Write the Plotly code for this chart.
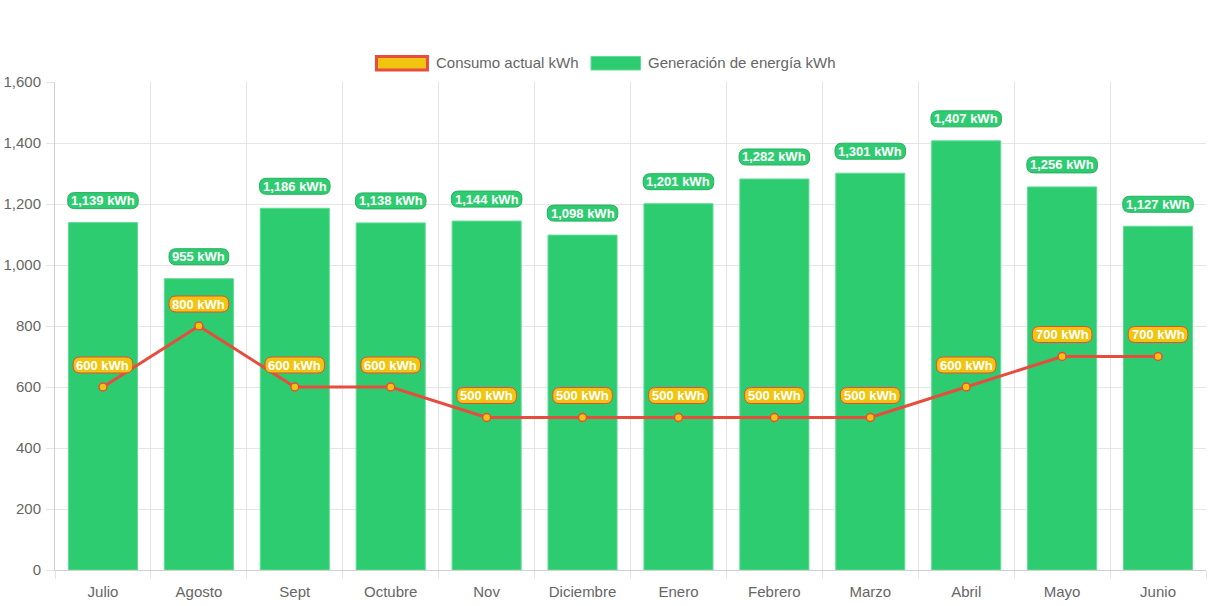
import plotly.graph_objects as go

months = ["Julio", "Agosto", "Sept", "Octubre", "Nov", "Diciembre", "Enero",
          "Febrero", "Marzo", "Abril", "Mayo", "Junio"]
generacion = [1139, 955, 1186, 1138, 1144, 1098, 1201, 1282, 1301, 1407, 1256, 1127]
consumo = [600, 800, 600, 600, 500, 500, 500, 500, 500, 600, 700, 700]

GREEN = "#2ecc71"
GREEN_DARK = "#27ae60"
YELLOW = "#f1c40f"
RED = "#e74c3c"
FONT = "Liberation Sans, Arial, sans-serif"
LABEL_SIZE = 13
LABEL_SHIFT = 22

# approximate Arial Bold advance widths (per 1000 em)
BOLD_W = {c: 556 for c in "0123456789"}
BOLD_W.update({",": 278, " ": 278, "k": 556, "W": 944, "h": 611})


def text_px(s, size=LABEL_SIZE):
    return sum(BOLD_W.get(c, 556) for c in s) * size / 1000.0


def pill(w, h, r, cy):
    x0, x1 = -w / 2, w / 2
    y0, y1 = cy - h / 2, cy + h / 2
    return (f"M {x0 + r},{y0} L {x1 - r},{y0} Q {x1},{y0} {x1},{y0 + r} "
            f"L {x1},{y1 - r} Q {x1},{y1} {x1 - r},{y1} L {x0 + r},{y1} "
            f"Q {x0},{y1} {x0},{y1 - r} L {x0},{y0 + r} Q {x0},{y0} {x0 + r},{y0} Z")


fig = go.Figure()
fig.add_trace(go.Bar(
    x=months, y=generacion, name="Generación de energía kWh",
    marker=dict(color=GREEN, line=dict(color="#5fdc94", width=1)),
    showlegend=False,
))
fig.add_trace(go.Scatter(
    x=months, y=consumo, mode="lines+markers", name="Consumo actual kWh",
    line=dict(color=RED, width=3),
    marker=dict(color=YELLOW, size=8, line=dict(color=RED, width=1.5)),
    showlegend=False,
))

annotations = []
shapes = []
for series, fill, border in ((generacion, GREEN, GREEN_DARK), (consumo, YELLOW, RED)):
    for m, v in zip(months, series):
        txt = f"{v:,} kWh"
        w = text_px(txt) + 7
        shapes.append(dict(
            type="path", xref="x", yref="y", xsizemode="pixel", ysizemode="pixel",
            xanchor=m, yanchor=v, path=pill(w, 16, 7, LABEL_SHIFT),
            fillcolor=fill, line=dict(color=border, width=1), layer="above",
        ))
        annotations.append(dict(
            x=m, y=v, text=f"<b>{txt}</b>", showarrow=False, yshift=LABEL_SHIFT,
            font=dict(color="white", size=LABEL_SIZE, family=FONT),
        ))

# custom legend (wide boxes as in the original)
legend_items = [
    ("Consumo actual kWh", YELLOW, RED, 3, 0.2793, 0.3236, 0.3293),
    ("Generación de energía kWh", GREEN, "#5fdc94", 1, 0.4657, 0.5087, 0.5135),
]
for name, fill, border, lw, bx0, bx1, tx in legend_items:
    shapes.append(dict(
        type="rect", xref="paper", yref="paper", x0=bx0, x1=bx1, y0=1.0246, y1=1.0523,
        fillcolor=fill, line=dict(color=border, width=lw),
    ))
    annotations.append(dict(
        xref="paper", yref="paper", x=tx, y=1.039, xanchor="left", yanchor="middle",
        text=name, showarrow=False, font=dict(size=15, color="#666", family=FONT),
    ))

fig.update_layout(
    width=1213, height=606,
    margin=dict(l=55, r=7, t=82, b=36),
    paper_bgcolor="white", plot_bgcolor="white",
    bargap=0.28, showlegend=False,
    font=dict(family=FONT, size=15, color="#666"),
    annotations=annotations, shapes=shapes,
    xaxis=dict(
        type="category", tickson="boundaries", showgrid=True,
        range=[-0.5, len(months) - 0.5],
        gridcolor="#e5e5e5", ticks="outside", ticklen=8, tickcolor="#e5e5e5",
        showline=True, linecolor="#d0d0d0", tickfont=dict(size=15, color="#666"),
        ticklabelstandoff=8, automargin=False,
    ),
    yaxis=dict(
        range=[0, 1600], dtick=200, tickformat=",", showgrid=True,
        gridcolor="#e5e5e5", ticks="outside", ticklen=8, tickcolor="#e5e5e5",
        showline=True, linecolor="#d0d0d0", zeroline=False,
        tickfont=dict(size=15, color="#666"), automargin=False,
        ticklabelstandoff=2,
    ),
)

fig.write_html("out.html", config={"displayModeBar": False},
               post_script="document.body.style.margin='0';")
